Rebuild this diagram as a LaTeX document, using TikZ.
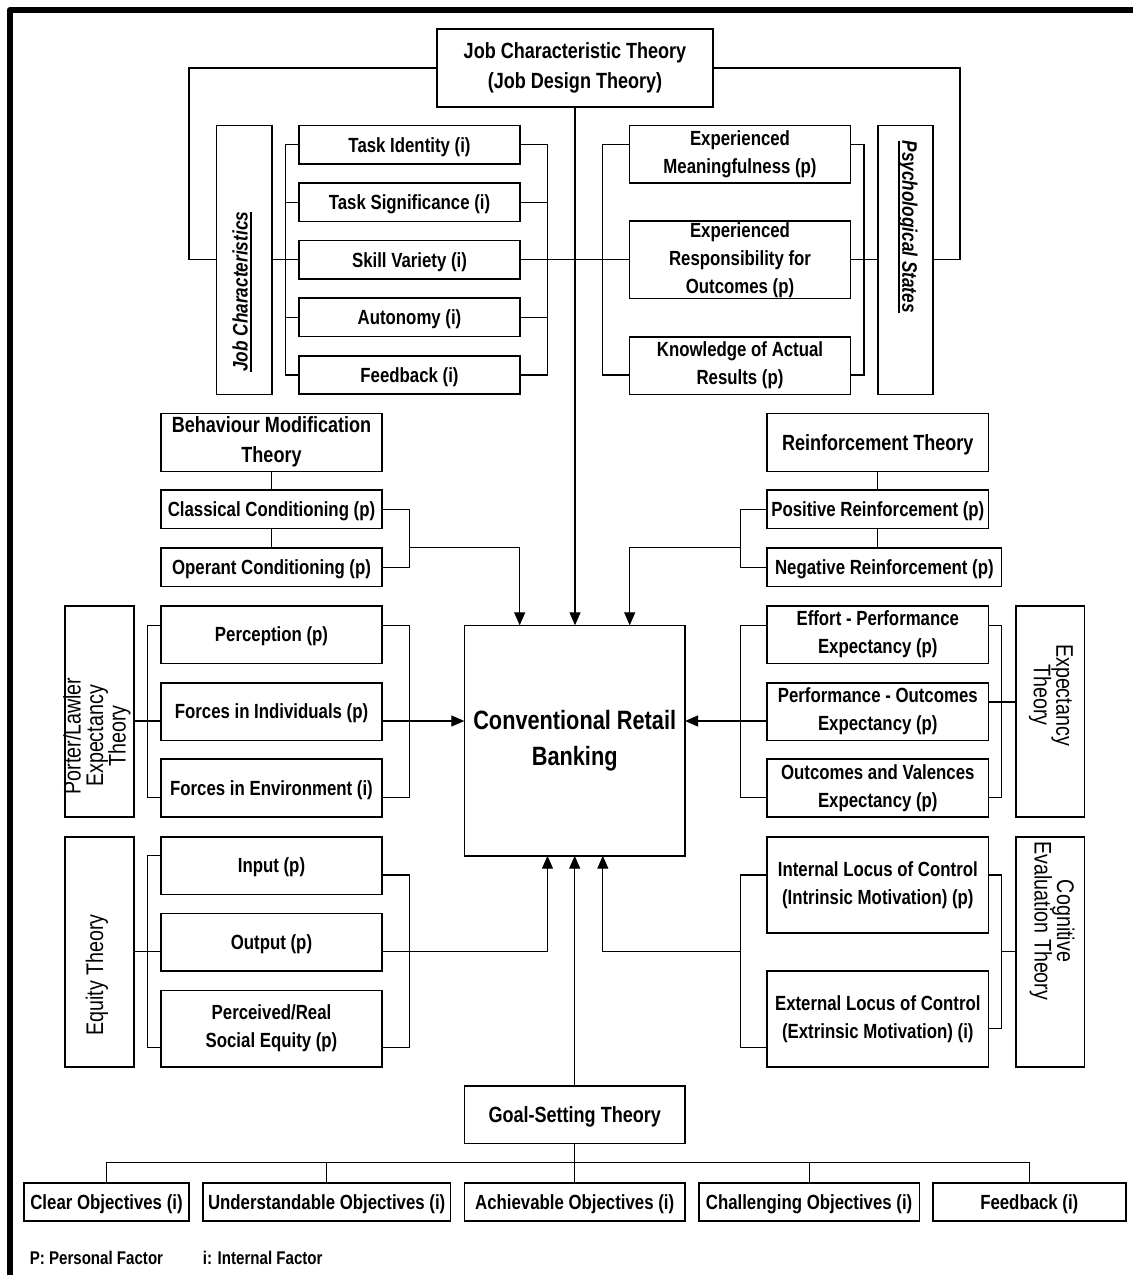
\documentclass[tikz,border=0pt]{standalone}
\usepackage{fontspec}
\setmainfont{Liberation Sans}
\newfontfamily\narrowsans{Liberation Sans}[FakeStretch=0.82]
\usetikzlibrary{arrows.meta}

% type sizes
\newcommand\fItem{\narrowsans\bfseries\fontsize{20.5}{28}\selectfont}
\newcommand\fTitle{\narrowsans\bfseries\fontsize{22}{30}\selectfont}
\newcommand\fBig{\narrowsans\bfseries\fontsize{26.5}{36}\selectfont}
\newcommand\fLabel{\narrowsans\bfseries\itshape\fontsize{21}{25}\selectfont}
\newcommand\fSide{\narrowsans\fontsize{24}{22.5}\selectfont}
\newcommand\fLegend{\narrowsans\bfseries\fontsize{18.4}{22}\selectfont}
% heavy underline for the rotated group labels
\newcommand\ulbar[1]{\setbox0\hbox{#1}\rlap{\rule[-4pt]{\wd0}{2pt}}\box0}

\begin{document}
\begin{tikzpicture}[x=1pt,y=-1pt,
  box/.style={draw,line width=1.6pt,inner sep=0pt,outer sep=0pt,align=center,font=\fItem},
  one/.style={text height=14.7pt,text depth=0pt},
  ttl/.style={box,font=\fTitle},
  conn/.style={line width=1.2pt},
  arr/.style={conn,-{Triangle[length=13pt,width=11pt]}},
  side/.style={font=\fSide,align=center,inner sep=0pt},
  lbl/.style={font=\fLabel,inner sep=0pt}]
\useasboundingbox (0,0) rectangle (1133,1275);

% page frame (top and left edges)
\draw[line width=6pt,line join=round] (10,1275) -- (10,10) -- (1133,10);

% ---------- Job Characteristic Theory ----------
\node[ttl,minimum width=276pt,minimum height=78pt] (jct) at (575,68) {Job Characteristic Theory\\(Job Design Theory)};

\node[box,minimum width=55.6pt,minimum height=269pt] (jc) at (244.2,259.8) {};
\node[lbl,rotate=90] (jcl) at (242,291.7) {\ulbar{Job Characteristics}};

\node[box,one,minimum width=221pt,minimum height=38.5pt] (ti) at (409.5,144.7) {Task Identity (i)};
\node[box,one,minimum width=221pt,minimum height=38.5pt] (ts) at (409.5,202.3) {Task Significance (i)};
\node[box,one,minimum width=221pt,minimum height=38.5pt] (sv) at (409.5,259.8) {Skill Variety (i)};
\node[box,one,minimum width=221pt,minimum height=38.5pt] (au) at (409.5,317.3) {Autonomy (i)};
\node[box,one,minimum width=221pt,minimum height=38.5pt] (fbj) at (409.5,375) {Feedback (i)};

\node[box,minimum width=221.2pt,minimum height=57.7pt] (em) at (740,154.2) {Experienced\\Meaningfulness (p)};
\node[box,minimum width=221.2pt,minimum height=77.3pt] (er) at (740,259.8) {Experienced\\Responsibility for\\Outcomes (p)};
\node[box,minimum width=221.2pt,minimum height=57.6pt] (kr) at (740,365.5) {Knowledge of Actual\\Results (p)};

\node[box,minimum width=54.8pt,minimum height=269pt] (ps) at (905.4,259.8) {};
\node[lbl,rotate=-90] (psl) at (907.8,226.7) {\ulbar{Psychological States}};

\draw[conn] (jct.west) -- ++(-248,0) |- (jc.west);
\draw[conn] (jct.east) -- ++(247,0) |- (ps.east);

\draw[conn] (jc.east) -- (sv.west);
\draw[conn] (ti.west) -- ++(-13.4,0) |- (fbj.west);
\draw[conn] (ts.west) -- ++(-13.4,0);
\draw[conn] (au.west) -- ++(-13.4,0);
\draw[conn] (ti.east) -- ++(27.5,0) |- (fbj.east);
\draw[conn] (ts.east) -- ++(27.5,0);
\draw[conn] (au.east) -- ++(27.5,0);
\draw[conn] (sv.east) -- (er.west);

\draw[conn] (em.west |- ti.west) -- ++(-26.6,0) |- (kr.west |- fbj.west);
\draw[conn] (em.east |- ti.east) -- ++(13.4,0) |- (kr.east |- fbj.east);
\draw[conn] (er.east) -- (ps.west);

% ---------- centre ----------
\node[box,font=\fBig,minimum width=220.7pt,minimum height=230.4pt] (cbank) at (574.7,740.5) {Conventional Retail\\Banking};
\draw[arr] (jct.south) -- (jct.south |- cbank.north);

% ---------- Behaviour Modification Theory ----------
\node[ttl,minimum width=220.5pt,minimum height=58pt] (bmt) at (271.5,442.3) {Behaviour Modification\\Theory};
\node[box,one,minimum width=220.5pt,minimum height=38.7pt] (cc) at (271.5,509.3) {Classical Conditioning (p)};
\node[box,one,minimum width=220.5pt,minimum height=38.3pt] (oc) at (271.5,567.2) {Operant Conditioning (p)};
\draw[conn] (bmt.south) -- (cc.north);
\draw[conn] (cc.south) -- (oc.north);
\draw[conn] (cc.east) -- ++(27.7,0) |- (oc.east);
\coordinate (bmj) at (409.5,547.7);
\draw[arr] (bmj) -| ([xshift=-55pt]cbank.north);

% ---------- Reinforcement Theory ----------
\node[ttl,one,text height=15.8pt,minimum width=221.2pt,minimum height=58pt] (rt) at (877.8,442.3) {Reinforcement Theory};
\node[box,one,minimum width=221.2pt,minimum height=38.7pt] (pr) at (877.8,509.3) {Positive Reinforcement (p)};
\node[box,one,minimum width=234.3pt,minimum height=38.3pt] (nr) at (884.35,567.2) {Negative Reinforcement (p)};
\draw[conn] (rt.south) -- (pr.north);
\draw[conn] (pr.south) -- (pr.south |- nr.north);
\draw[conn] (pr.west) -- ++(-27,0) |- (nr.west);
\coordinate (rtj) at (740.2,547.7);
\draw[arr] (rtj) -| ([xshift=55pt]cbank.north);

% ---------- Porter/Lawler Expectancy Theory ----------
\node[box,minimum width=68.8pt,minimum height=211pt] (porter) at (99.5,711.2) {};
\node[side,rotate=90] (porterl) at (97,736) {Porter/Lawler\\Expectancy\\Theory};
\node[box,one,minimum width=220.5pt,minimum height=57.6pt] (pe) at (271.5,634.5) {Perception (p)};
\node[box,one,minimum width=220.5pt,minimum height=57.6pt] (fi) at (271.5,711.5) {Forces in Individuals (p)};
\node[box,one,minimum width=220.5pt,minimum height=57.6pt] (fe) at (271.5,788) {Forces in Environment (i)};
\coordinate (fim) at ([yshift=-9.5pt]fi.west);
\draw[conn] ([yshift=9.2pt]pe.west) -- ++(-14.1,0) |- ([yshift=-9.3pt]fe.west);
\draw[conn] (porter.east |- fim) -- (fim);
\draw[conn] ([yshift=9.2pt]pe.east) -- ++(27.7,0) |- ([yshift=-9.3pt]fe.east);
\draw[arr] ([yshift=-9.5pt]fi.east) -- (cbank.west |- fim);

% ---------- Expectancy Theory ----------
\node[box,minimum width=221.2pt,minimum height=57.6pt] (ep) at (877.8,634.5) {Effort - Performance\\Expectancy (p)};
\node[box,minimum width=221.2pt,minimum height=57.6pt] (po) at (877.8,711.5) {Performance - Outcomes\\Expectancy (p)};
\node[box,minimum width=221.2pt,minimum height=57.6pt] (ov) at (877.8,788) {Outcomes and Valences\\Expectancy (p)};
\node[box,minimum width=68.7pt,minimum height=211pt] (exb) at (1050.2,711.2) {};
\node[side,rotate=-90] (exl) at (1051,695) {Expectancy\\Theory};
\draw[conn] ([yshift=9.2pt]ep.west) -- ++(-27,0) |- ([yshift=-9.3pt]ov.west);
\draw[arr] ([yshift=-9.5pt]po.west) -- (cbank.east |- fim);
\draw[conn] ([yshift=9.2pt]ep.east) -- ++(13.1,0) |- ([yshift=-9.3pt]ov.east);
\coordinate (pom) at ([yshift=9.5pt]po.east);
\draw[conn] (pom) -- (exb.west |- pom);

% ---------- Equity Theory ----------
\node[box,minimum width=68.8pt,minimum height=230pt] (eq) at (99.5,951.7) {};
\node[side,rotate=90] (eql) at (97,975) {Equity Theory};
\node[box,one,minimum width=220.5pt,minimum height=57.6pt] (inp) at (271.5,865.5) {Input (p)};
\node[box,one,minimum width=220.5pt,minimum height=57.7pt] (outp) at (271.5,942.2) {Output (p)};
\node[box,minimum width=220.5pt,minimum height=76.4pt] (prse) at (271.5,1028.5) {Perceived/Real\\Social Equity (p)};
\draw[conn] ([yshift=9.8pt]inp.west) -- ++(-14.1,0) |- ([yshift=-19.2pt]prse.west);
\draw[conn] (eq.east) -- (eq.east -| outp.west);
\draw[conn] ([yshift=-9.5pt]inp.east) -- ++(27.7,0) |- ([yshift=-19.2pt]prse.east);
\draw[arr] (eq.east -| outp.east) -| ([xshift=-27.2pt]cbank.south);

% ---------- Cognitive Evaluation Theory ----------
\node[box,minimum width=221.2pt,minimum height=96pt] (ilc) at (877.8,884.7) {Internal Locus of Control\\(Intrinsic Motivation) (p)};
\node[box,minimum width=221.2pt,minimum height=95.7pt] (elc) at (877.8,1018.9) {External Locus of Control\\(Extrinsic Motivation) (i)};
\node[box,minimum width=68.7pt,minimum height=230pt] (cet) at (1050.2,951.7) {};
\node[side,rotate=-90] (cetl) at (1052,921) {Cognitive\\Evaluation Theory};
\draw[conn] ([yshift=9.7pt]ilc.west) -- ++(-27,0) |- ([yshift=-28.8pt]elc.west);
\coordinate (lcj) at (740.2,951.7);
\draw[arr] (lcj) -| ([xshift=28.1pt]cbank.south);
\draw[conn] ([yshift=9.7pt]ilc.east) -- ++(13.1,0) |- ([yshift=-9.8pt]elc.east);
\draw[conn] (cet.west) -- ++(-14.3,0);

% ---------- Goal-Setting Theory ----------
\node[ttl,one,text height=15.8pt,minimum width=220.7pt,minimum height=57.3pt] (gst) at (574.7,1114.7) {Goal-Setting Theory};
\node[box,one,minimum width=165pt,minimum height=38.3pt] (clr) at (106.5,1201.9) {Clear Objectives (i)};
\node[box,one,minimum width=247.9pt,minimum height=38.3pt] (und) at (326.7,1201.9) {Understandable Objectives (i)};
\node[box,one,minimum width=220.7pt,minimum height=38.3pt] (ach) at (574.7,1201.9) {Achievable Objectives (i)};
\node[box,one,minimum width=220.4pt,minimum height=38.3pt] (chl) at (809.1,1201.9) {Challenging Objectives (i)};
\node[box,one,minimum width=193pt,minimum height=38.3pt] (fbk) at (1029.3,1201.9) {Feedback (i)};
\draw[arr] (gst.north) -- (gst.north |- cbank.south);
\draw[conn] (gst.south) -- (ach.north);
\draw[conn] (clr.north) -- ++(0,-20) -| (fbk.north);
\draw[conn] (und.north) -- ++(0,-20);
\draw[conn] (chl.north) -- ++(0,-20);

% ---------- legend ----------
\node[font=\fLegend,anchor=west,inner sep=0pt] (lgp) at (29.6,1258.3) {P: Personal Factor};
\node[font=\fLegend,anchor=west,inner sep=0pt] (lgi) at (202.7,1258.3) {i: Internal Factor};
\end{tikzpicture}
\end{document}
